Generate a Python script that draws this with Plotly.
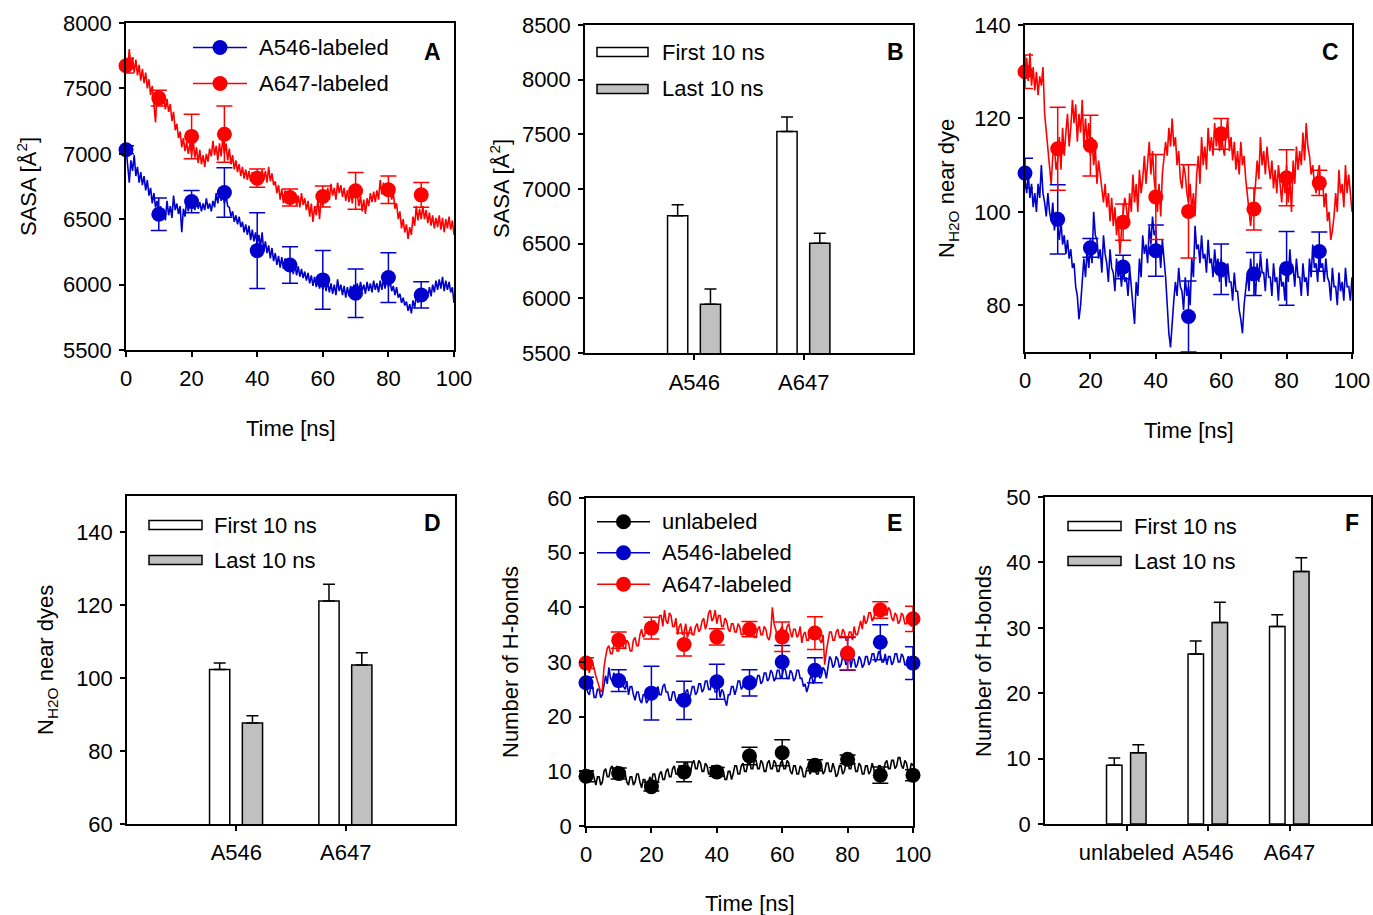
import plotly.graph_objects as go

W, H = 1373, 915
FONT = "Liberation Sans, Arial, sans-serif"
RED = "#FF0000"
BLUE = "#0000CC"
BLACK = "#000000"
GRAY = "#C0C0C0"

# ---------------- data ----------------
# trajectories sampled every 0.5 ns (0 ... 100 ns)
time_ns = [i * 0.5 for i in range(201)]
mark_t = [0, 10, 20, 30, 40, 50, 60, 70, 80, 90]
mark_t_e = [0, 10, 20, 30, 40, 50, 60, 70, 80, 90, 100]

# Panel A: SASA trajectories
sasa_a546 = [7050, 6900, 6780, 6950, 6870, 6990, 6830, 6900, 6780, 6860, 6760,
             6830, 6720, 6800, 6680, 6740, 6620, 6700, 6590, 6640, 6540,
             6600, 6520, 6580, 6490, 6640, 6530, 6600, 6510, 6680, 6570,
             6620, 6540, 6600, 6400, 6580, 6520, 6640, 6560, 6660, 6580,
             6640, 6570, 6660, 6580, 6630, 6560, 6620, 6570, 6660, 6580,
             6620, 6560, 6640, 6590, 6700, 6620, 6740, 6640, 6710, 6620,
             6680, 6600, 6590, 6520, 6560, 6480, 6530, 6460, 6520, 6440,
             6480, 6400, 6460, 6380, 6450, 6340, 6420, 6330, 6400, 6300,
             6380, 6290, 6400, 6250, 6330, 6240, 6300, 6200, 6280, 6180,
             6240, 6150, 6220, 6130, 6210, 6120, 6200, 6110, 6180, 6100,
             6170, 6080, 6160, 6070, 6140, 6060, 6120, 6050, 6100, 6030,
             6090, 6010, 6070, 5990, 6060, 5980, 6050, 5970, 6040, 5960,
             6030, 5950, 6020, 5940, 6010, 5930, 6000, 5920, 6040, 5950,
             6000, 5920, 5990, 5900, 5980, 5910, 5990, 5920, 6000, 5930,
             6010, 5940, 6020, 5950, 6000, 5930, 6020, 5950, 6010, 5940,
             6030, 5960, 6010, 5940, 6030, 5960, 6040, 5970, 6060, 5980,
             6030, 5950, 5990, 5920, 5980, 5900, 5930, 5860, 5900, 5840,
             5870, 5800, 5850, 5780, 5880, 5820, 5920, 5860, 5950, 5880,
             5940, 5880, 5960, 5900, 5980, 5910, 6000, 5940, 6030, 5960,
             6040, 5970, 6060, 5950, 6030, 5960, 6020, 5940, 5980, 5860]
sasa_a647 = [7700, 7640, 7800, 7660, 7740, 7620, 7720, 7600, 7680,
             7560, 7650, 7540, 7620, 7500, 7570, 7450, 7520,
             7390, 7240, 7480, 7400,
             7470, 7380, 7440, 7340, 7420,
             7320, 7380, 7250, 7320, 7180, 7230, 7120,
             7170, 7050, 7120, 7020, 7090, 7000, 7080, 6990,
             7100, 6970, 7050, 6930, 7030, 6920, 6990, 6900, 7000, 6940,
             7040, 6980, 7100, 6990, 7060, 6950, 7080, 6980, 7120, 7000,
             7080, 6950, 7040, 6920, 6990, 6880,
             6950, 6860, 6920, 6830, 6900, 6810, 6880, 6800,
             6870, 6790, 6860, 6780, 6840, 6790, 6860, 6770,
             6880, 6800, 6870, 6780, 6900, 6790, 6850, 6760,
             6790, 6700, 6760, 6650, 6730, 6620, 6720, 6630, 6700, 6610,
             6690, 6620, 6700, 6600, 6680, 6590, 6700, 6610, 6660, 6570,
             6640, 6520, 6620, 6480, 6600, 6530, 6650, 6500, 6660, 6600,
             6700, 6630, 6740, 6650, 6770, 6680, 6740, 6650, 6780, 6700,
             6760, 6670, 6740, 6640, 6720, 6630, 6710, 6620, 6730, 6660,
             6700, 6600, 6680, 6560, 6650, 6540, 6660, 6600, 6700, 6630,
             6710, 6630, 6720, 6650, 6800, 6690, 6780, 6680, 6760, 6680,
             6740, 6650, 6700, 6580, 6620, 6500, 6560, 6430, 6500, 6400,
             6460, 6350, 6440, 6380, 6520, 6450, 6600, 6490, 6580, 6500,
             6600, 6500, 6570, 6470, 6550, 6450, 6530, 6430, 6510, 6440,
             6530, 6420, 6510, 6400, 6500, 6430, 6520, 6420, 6490, 6380]
sasa_a546_mk = [7031, 6538, 6635, 6704, 6260, 6150, 6036, 5934, 6054, 5921]
sasa_a546_err = [30, 125, 85, 190, 290, 140, 225, 185, 190, 100]
sasa_a647_mk = [7673, 7426, 7133, 7150, 6814, 6666, 6673, 6717, 6725, 6686]
sasa_a647_err = [55, 60, 170, 215, 70, 65, 80, 140, 105, 95]

# Panel B: SASA bars
cats2 = ["A546", "A647"]
sasa_first = [6755, 7526]
sasa_first_err = [100, 132]
sasa_last = [5947, 6504]
sasa_last_err = [138, 92]

# Panel C: water near dye trajectories
nh2o_a546 = [107, 104, 108, 103, 106, 101, 104, 100, 106, 103,
             110, 104, 102, 99, 104, 100, 98, 102, 96, 100,
             97, 94, 98, 93, 95, 91, 94, 90, 92, 88,
             89, 84, 82, 77, 80, 85, 90, 86, 92, 88,
             93, 89, 100, 95, 94, 90, 92, 87, 95, 91,
             89, 85, 92, 88, 87, 83, 90, 86, 88, 84,
             89, 85, 86, 82, 88, 84, 80, 76, 85, 82,
             90, 86, 95, 91, 93, 89, 97, 93, 99, 95,
             96, 91, 93, 88, 94, 90, 86, 80, 74, 71,
             77, 81, 85, 82, 88, 84, 83, 79, 86, 82,
             84, 80, 90, 86, 97, 92, 93, 89, 95, 90,
             91, 87, 94, 89, 90, 86, 92, 88, 90, 85,
             90, 86, 88, 84, 89, 85, 85, 81, 87, 83,
             83, 79, 77, 74, 80, 84, 87, 83, 90, 86,
             86, 82, 89, 85, 91, 87, 87, 83, 90, 86,
             86, 82, 89, 85, 86, 81, 88, 84, 85, 81,
             89, 85, 92, 87, 88, 84, 90, 86, 86, 82,
             89, 85, 86, 82, 90, 86, 93, 88, 89, 85,
             92, 88, 89, 85, 90, 86, 85, 81, 88, 84,
             84, 80, 87, 83, 85, 81, 88, 84, 84, 81,
             86]
nh2o_a647 = [129, 133, 128, 134, 127, 131, 126, 130, 125, 129,
             127, 131, 121, 117, 113, 110, 106, 112, 114, 109,
             111, 116, 109, 118, 112, 117, 121, 114, 118, 124,
             119, 123, 115, 121, 117, 124, 114, 120, 115, 119,
             112, 116, 110, 114, 106, 111, 108, 104, 102, 106,
             101, 104, 98, 103, 97, 101, 95, 99, 91, 96,
             99, 103, 101, 97, 104, 100, 108, 102, 106, 100,
             109, 104, 107, 112, 106, 110, 115, 108, 113, 107,
             104, 100, 106, 99, 108, 111, 115, 112, 118, 114,
             120, 114, 116, 110, 113, 107, 105, 110, 108, 104,
             102, 106, 100, 104, 99, 108, 112, 106, 116, 110,
             114, 109, 118, 113, 116, 112, 119, 114, 117, 113,
             118, 114, 112, 117, 120, 113, 116, 111, 115, 109,
             113, 108, 115, 110, 112, 107, 104, 100, 97, 101,
             102, 106, 111, 107, 116, 110, 113, 108, 114, 110,
             107, 111, 105, 109, 104, 110, 106, 102, 108, 104,
             110, 102, 107, 100, 111, 106, 114, 109, 113, 110,
             117, 111, 119, 114, 112, 108, 110, 106, 104, 108,
             110, 105, 107, 101, 104, 98, 100, 94, 96, 99,
             104, 100, 109, 104, 106, 101, 110, 104, 108, 103,
             100]
nh2o_a546_mk = [108.3, 98.4, 92.3, 88.2, 91.7, 77.6, 87.7, 86.7, 87.9, 91.5]
nh2o_a546_err = [3.2, 7.4, 2.0, 2.5, 5.5, 7.6, 5.4, 4.6, 7.9, 4.2]
nh2o_a647_mk = [130.0, 113.5, 114.2, 97.8, 103.2, 100.1, 116.7, 100.6, 107.3, 106.2]
nh2o_a647_err = [3.6, 8.9, 6.5, 3.9, 9.1, 10.0, 3.3, 4.5, 6.0, 2.7]

# Panel D: water bars
nh2o_first = [102.4, 121.2]
nh2o_first_err = [1.8, 4.6]
nh2o_last = [87.7, 103.6]
nh2o_last_err = [2.0, 3.4]

# Panel E: H-bond trajectories
hb_unl = [9.5, 8, 8, 10, 10, 8.5, 7.5, 9, 9, 7.5,
          8, 10, 10.5, 9, 9, 10.5, 11, 9.5, 9.5, 11,
          10, 8.5, 8.5, 10, 9.5, 8, 7.5, 9, 9, 7.5,
          8, 9.5, 9.5, 8, 7, 8.5, 8.5, 7, 7.5, 9,
          8, 9.5, 9.5, 8, 8, 9.5, 10, 8.5, 8.5, 10,
          10.5, 9, 9, 10.5, 11, 9.5, 9.5, 11, 11, 9.5,
          10, 11.5, 11.5, 10, 10, 11.5, 12, 10.5, 10.5, 12,
          11.5, 10, 10, 11.5, 11, 9.5, 9.5, 11, 11, 9.5,
          10, 11, 9, 10.5, 10, 8.5, 8.5, 10, 10, 8.5,
          9.5, 11, 11, 9.5, 9.5, 11, 11.5, 10, 10, 11.5,
          12, 10.5, 10.5, 12, 12, 10.5, 10.5, 12, 11.5, 10,
          10, 11.5, 12, 10.5, 10.5, 12, 11.5, 10, 10, 11.5,
          12, 10.5, 10.5, 12, 11.5, 10, 9.5, 11, 11, 9.5,
          9.5, 11, 10.5, 9, 9, 10.5, 11, 9.5, 10, 11.5,
          11, 9.5, 9.5, 11, 11, 9.5, 10, 11.5, 11.5, 10,
          10, 11.5, 10.5, 9, 9.5, 11, 11, 9.5, 10, 11.5,
          12, 10.5, 10.5, 12, 11.5, 10, 10, 11.5, 11, 9.5,
          9.5, 11, 11, 9.5, 10, 11.5, 10.5, 9, 9.5, 11,
          11, 9.5, 10, 11.5, 12, 10.5, 10.5, 12, 12, 10.5,
          11, 12.5, 12.5, 11, 10.5, 12, 11.5, 10, 10, 11.5,
          11]
hb_a546 = [26, 24.5, 24, 25.5, 25.5, 23.5, 23.5, 25, 25, 23.5,
           24, 26, 27.5, 26, 29, 27, 26.5, 28, 27.5, 26,
           26, 27.5, 27, 25.5, 25, 26.5, 24, 25.5, 25.5, 24,
           23, 24.5, 24.5, 23, 22.5, 24, 24, 22.5, 23, 24.5,
           25, 23.5, 23.5, 25, 25.5, 24, 24, 25.5, 26, 24.5,
           24.5, 23, 23, 24.5, 24.5, 23, 22.5, 24, 24, 22.5,
           23, 24.5, 25, 23.5, 24, 25.5, 25.5, 24, 24.5, 26,
           26, 24.5, 25, 26.5, 26.5, 25, 25, 26.5, 26, 24.5,
           24.5, 26, 23.5, 25, 24.5, 23, 22, 24, 24, 25.5,
           25.5, 24, 25, 26.5, 26.5, 25, 25.5, 27, 26.5, 25,
           26, 27.5, 27, 25.5, 26, 27.5, 27.5, 26, 26.5, 28,
           28, 26.5, 27, 28.5, 28, 26.5, 27, 28.5, 28.5, 27,
           27.5, 29, 28.5, 27, 27, 28.5, 28, 26.5, 27, 28.5,
           28.5, 27, 27, 25.5, 26, 24.5, 25.5, 27, 27.5, 26,
           27, 28.5, 28.5, 27, 27.5, 29, 28.5, 27, 29.5, 31,
           30.5, 29, 29.5, 31, 30.5, 29, 29.5, 31, 31, 29.5,
           30, 31.5, 29, 30.5, 30.5, 29, 29.5, 31, 30.5, 29,
           29.5, 31, 31, 29.5, 30, 31.5, 31.5, 30, 30.5, 32,
           31.5, 30, 30, 31.5, 29.5, 31, 31, 29.5, 30, 31.5,
           31.5, 30, 30, 31.5, 31, 29.5, 29.5, 31, 30.5, 29,
           29.5]
hb_a647 = [29.5, 30.5, 28, 29.5, 30, 28.5, 27.5, 26.5, 25.5, 24.5,
           25, 29, 31, 32.5, 33, 31.5, 31.5, 33, 33.5, 32,
           32, 34, 34.5, 32.5, 32.5, 34, 33.5, 32, 32, 34,
           34.5, 33, 33, 35, 36, 34.5, 35, 37, 37, 35.5,
           35.5, 37.5, 37.5, 35.5, 36, 38.5, 38.5, 36.5, 39.5, 37.5,
           37, 39, 38.5, 36.5, 36.5, 38, 35, 36.5, 37, 35,
           35.5, 37, 34.5, 35.5, 36.5, 35, 35, 36.5, 37, 35.5,
           36, 37.5, 38, 36, 37, 39, 39.5, 37.5, 38, 39.5,
           37, 38.5, 38.5, 36.5, 36.5, 38, 37.5, 36, 35.5, 37,
           37, 35.5, 35.5, 37, 36.5, 35, 35, 36.5, 36.5, 35,
           35, 36.5, 36, 34.5, 34.5, 36, 36.5, 35, 35, 36.5,
           36, 34.5, 34, 35.5, 40, 37, 36, 34.5, 34.5, 36,
           36.5, 35, 35, 36.5, 37, 35.5, 34.5, 36, 36, 34.5,
           35, 36.5, 33.5, 35, 35.5, 34, 34, 35.5, 36, 34.5,
           34.5, 36, 35.5, 34, 33.5, 35, 29.5, 32, 34, 35.5,
           35.5, 34, 34, 35.5, 36, 34.5, 34.5, 36, 35.5, 34,
           34, 35.5, 35.5, 34, 36.5, 35, 35, 36.5, 37.5, 36,
           38.5, 37, 37.5, 39, 39, 37.5, 38, 39.5, 40, 38.5,
           39, 40.5, 40.5, 39, 38.5, 40, 39.5, 38, 37.5, 39,
           38.5, 37, 37.5, 39, 38.5, 37, 37, 38.5, 38, 36.5,
           37.5]
hb_unl_mk = [9.1, 9.6, 7.2, 9.9, 9.9, 12.8, 13.4, 11.1, 12.2, 9.3, 9.3]
hb_unl_err = [1.0, 1.0, 0.8, 1.8, 0.8, 1.6, 2.4, 1.0, 0.8, 1.5, 1.0]
hb_a546_mk = [26.2, 26.6, 24.3, 23.0, 26.4, 26.2, 30.0, 28.5, 31.5, 33.6, 29.8]
hb_a546_err = [1.0, 2.0, 4.9, 3.5, 3.2, 2.4, 3.0, 2.3, 3.0, 3.2, 3.0]
hb_a647_mk = [29.8, 34.0, 36.2, 33.2, 34.6, 36.0, 34.6, 35.3, 31.6, 39.5, 37.9]
hb_a647_err = [1.0, 1.5, 2.0, 2.1, 1.5, 1.4, 2.7, 3.0, 3.0, 1.5, 2.3]

# Panel F: H-bond bars
cats3 = ["unlabeled", "A546", "A647"]
hb_first = [9.0, 26.0, 30.2]
hb_first_err = [1.1, 2.0, 1.8]
hb_last = [10.9, 30.8, 38.6]
hb_last_err = [1.2, 3.1, 2.1]


# ---------------- helpers ----------------
def fx(p):
    return p / W


def fy(p):
    return 1 - p / H


fig = go.Figure()


def ax_ids(n):
    s = "" if n == 1 else str(n)
    return "x" + s, "y" + s


def add_series(n, x, y, color):
    xa, ya = ax_ids(n)
    fig.add_trace(go.Scatter(x=x, y=y, mode="lines", line=dict(color=color, width=1.6),
                             xaxis=xa, yaxis=ya, showlegend=False, hoverinfo="skip"))


def add_marks(n, x, y, err, color):
    xa, ya = ax_ids(n)
    fig.add_trace(go.Scatter(x=x, y=y, mode="markers", marker=dict(color=color, size=15),
                             error_y=dict(type="data", array=err, color=color, thickness=1.5, width=8),
                             cliponaxis=False, xaxis=xa, yaxis=ya, showlegend=False))


def add_bars(n, cats, vals, errs, fill, offset, width):
    xa, ya = ax_ids(n)
    fig.add_trace(go.Bar(x=cats, y=vals, width=width, offset=offset,
                         marker=dict(color=fill, line=dict(color="black", width=1.5)),
                         error_y=dict(type="data", symmetric=False, array=errs,
                                      arrayminus=[0] * len(errs), color="black",
                                      thickness=1.5, width=6),
                         xaxis=xa, yaxis=ya, showlegend=False))


# Panel A
add_series(1, time_ns, sasa_a546, BLUE)
add_series(1, time_ns, sasa_a647, RED)
add_marks(1, mark_t, sasa_a546_mk, sasa_a546_err, BLUE)
add_marks(1, mark_t, sasa_a647_mk, sasa_a647_err, RED)
# Panel B
add_bars(2, cats2, sasa_first, sasa_first_err, "white", -0.245, 0.185)
add_bars(2, cats2, sasa_last, sasa_last_err, GRAY, 0.055, 0.185)
# Panel C
add_series(3, time_ns, nh2o_a546, BLUE)
add_series(3, time_ns, nh2o_a647, RED)
add_marks(3, mark_t, nh2o_a546_mk, nh2o_a546_err, BLUE)
add_marks(3, mark_t, nh2o_a647_mk, nh2o_a647_err, RED)
# Panel D
add_bars(4, cats2, nh2o_first, nh2o_first_err, "white", -0.245, 0.185)
add_bars(4, cats2, nh2o_last, nh2o_last_err, GRAY, 0.055, 0.185)
# Panel E
add_series(5, time_ns, hb_unl, BLACK)
add_series(5, time_ns, hb_a546, BLUE)
add_series(5, time_ns, hb_a647, RED)
add_marks(5, mark_t_e, hb_unl_mk, hb_unl_err, BLACK)
add_marks(5, mark_t_e, hb_a546_mk, hb_a546_err, BLUE)
add_marks(5, mark_t_e, hb_a647_mk, hb_a647_err, RED)
# Panel F
add_bars(6, cats3, hb_first, hb_first_err, "white", -0.245, 0.19)
add_bars(6, cats3, hb_last, hb_last_err, GRAY, 0.05, 0.19)


def axis_style(**kw):
    d = dict(showline=True, linecolor="black", linewidth=1.5, mirror=True,
             ticks="outside", ticklen=5, tickwidth=1.5, tickcolor="black",
             showgrid=False, zeroline=False, automargin=False, ticklabelstandoff=3,
             tickfont=dict(family=FONT, size=22, color="black"))
    d.update(kw)
    return d


t_ticks = [0, 20, 40, 60, 80, 100]
layout_axes = {
    # A
    "xaxis": axis_style(domain=[fx(126), fx(454)], anchor="y", range=[0, 100], tickvals=t_ticks),
    "yaxis": axis_style(domain=[fy(350), fy(23)], anchor="x", range=[5500, 8000],
                        tickvals=[5500, 6000, 6500, 7000, 7500, 8000]),
    # B
    "xaxis2": axis_style(domain=[fx(585), fx(913)], anchor="y2", type="category", range=[-1, 2],
                         ticklabelstandoff=4),
    "yaxis2": axis_style(domain=[fy(353), fy(25)], anchor="x2", range=[5500, 8500],
                         tickvals=[5500, 6000, 6500, 7000, 7500, 8000, 8500]),
    # C
    "xaxis3": axis_style(domain=[fx(1025), fx(1352)], anchor="y3", range=[0, 100], tickvals=t_ticks),
    "yaxis3": axis_style(domain=[fy(352), fy(25)], anchor="x3", range=[70, 140],
                         tickvals=[80, 100, 120, 140]),
    # D
    "xaxis4": axis_style(domain=[fx(127), fx(455)], anchor="y4", type="category", range=[-1, 2]),
    "yaxis4": axis_style(domain=[fy(824), fy(496)], anchor="x4", range=[60, 150],
                         tickvals=[60, 80, 100, 120, 140]),
    # E
    "xaxis5": axis_style(domain=[fx(586), fx(913)], anchor="y5", range=[0, 100], tickvals=t_ticks),
    "yaxis5": axis_style(domain=[fy(826), fy(498)], anchor="x5", range=[0, 60],
                         tickvals=[0, 10, 20, 30, 40, 50, 60]),
    # F
    "xaxis6": axis_style(domain=[fx(1045), fx(1371)], anchor="y6", type="category", range=[-1, 3]),
    "yaxis6": axis_style(domain=[fy(824), fy(497)], anchor="x6", range=[0, 50],
                         tickvals=[0, 10, 20, 30, 40, 50]),
}

annotations = []
shapes = []


def text(x, y, s, size=22, anchor="center", angle=0, bold=False):
    if bold:
        s = "<b>" + s + "</b>"
    annotations.append(dict(x=fx(x), y=fy(y), xref="paper", yref="paper", text=s,
                            showarrow=False, xanchor=anchor, yanchor="middle", textangle=angle,
                            font=dict(family=FONT, size=size, color="black")))


# axis titles
text(27, 187, "SASA [Å<sup>2</sup>]", angle=-90)
text(291, 428, "Time [ns]")
text(500, 189, "SASA [Å<sup>2</sup>]", angle=-90)
text(948, 189, "N<sub>H2O</sub> near dye", angle=-90)
text(1189, 430, "Time [ns]")
text(47, 660, "N<sub>H2O</sub> near dyes", angle=-90)
text(510, 662, "Number of H-bonds", angle=-90)
text(750, 903, "Time [ns]")
text(983, 661, "Number of H-bonds", angle=-90)

# panel letters
for (lx, ly, l) in [(432, 52, "A"), (895, 52, "B"), (1330, 52, "C"),
                    (432, 523, "D"), (894, 523, "E"), (1352, 523, "F")]:
    text(lx, ly, l, size=23, bold=True)


# line legends
def line_legend(x0, x1, y, color, label, tx):
    shapes.append(dict(type="line", xref="paper", yref="paper", x0=fx(x0), x1=fx(x1),
                       y0=fy(y), y1=fy(y), line=dict(color=color, width=1.5)))
    cx = (x0 + x1) / 2
    shapes.append(dict(type="circle", xref="paper", yref="paper", x0=fx(cx - 7.5), x1=fx(cx + 7.5),
                       y0=fy(y + 7.5), y1=fy(y - 7.5), fillcolor=color, line=dict(color=color, width=0)))
    text(tx, y, label, anchor="left")


line_legend(193, 247, 47.5, BLUE, "A546-labeled", 257)
line_legend(193, 247, 83.5, RED, "A647-labeled", 257)
line_legend(597, 650, 521.7, BLACK, "unlabeled", 660)
line_legend(597, 650, 552.7, BLUE, "A546-labeled", 660)
line_legend(597, 650, 584.3, RED, "A647-labeled", 660)


# bar legends
def bar_legend(x0, x1, yc, fill, label, tx):
    shapes.append(dict(type="rect", xref="paper", yref="paper", x0=fx(x0), x1=fx(x1),
                       y0=fy(yc + 4.5), y1=fy(yc - 4.5), fillcolor=fill,
                       line=dict(color="black", width=1.5)))
    text(tx, yc, label, anchor="left")


bar_legend(597, 648, 52, "white", "First 10 ns", 660)
bar_legend(597, 648, 89, GRAY, "Last 10 ns", 660)
bar_legend(149, 202, 525, "white", "First 10 ns", 212)
bar_legend(149, 202, 560, GRAY, "Last 10 ns", 212)
bar_legend(1068, 1121, 526, "white", "First 10 ns", 1132)
bar_legend(1068, 1121, 561, GRAY, "Last 10 ns", 1132)

fig.update_layout(
    width=W, height=H, margin=dict(l=0, r=0, t=0, b=0),
    paper_bgcolor="white", plot_bgcolor="white",
    barmode="overlay", showlegend=False,
    font=dict(family=FONT, size=22, color="black"),
    annotations=annotations, shapes=shapes,
    **layout_axes,
)

fig.write_html("out.html")
